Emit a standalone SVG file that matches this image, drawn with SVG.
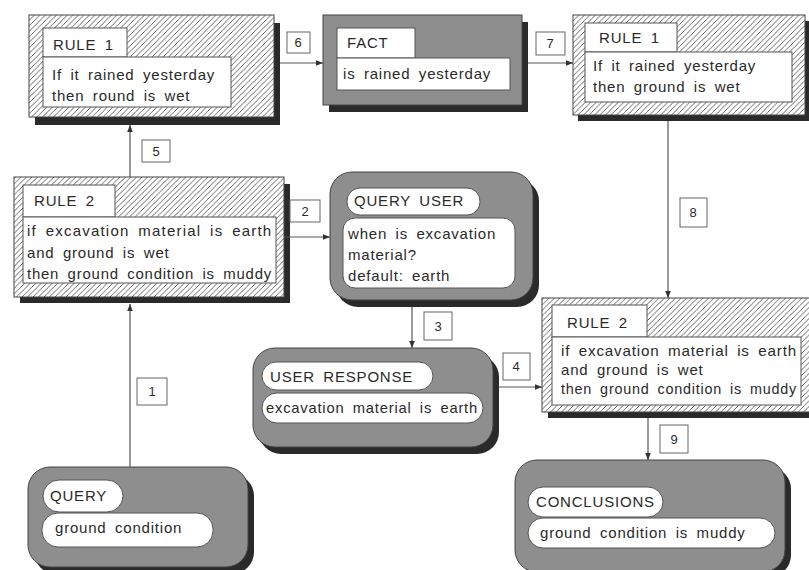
<svg xmlns="http://www.w3.org/2000/svg" width="809" height="570" viewBox="0 0 809 570">
<defs>
<pattern id="hatch" patternUnits="userSpaceOnUse" width="5.5" height="5.5">
<rect width="5.5" height="5.5" fill="#fff"/>
<path d="M-1,1 L1,-1 M0,5.5 L5.5,0 M4.5,6.5 L6.5,4.5" stroke="#555" stroke-width="0.9"/>
</pattern>
<marker id="arr" viewBox="0 0 10 10" refX="10" refY="5" markerWidth="7" markerHeight="7" orient="auto" markerUnits="userSpaceOnUse">
<path d="M0,1 L10,5 L0,9 Z" fill="#333"/>
</marker>
</defs>
<style>
text{font-family:"Liberation Sans",Arial,sans-serif;font-size:15px;fill:#2a2a2a;letter-spacing:0.8px;word-spacing:3.5px}
.sh{fill:#2a2a2a}
.ht{fill:url(#hatch);stroke:#444;stroke-width:1}
.gr{fill:#8e8e8e;stroke:#444;stroke-width:1}
.wb{fill:#fff;stroke:#555;stroke-width:1}
.cn{stroke:#555;stroke-width:1.2;fill:none;marker-end:url(#arr)}
.lb{fill:#fff;stroke:#666;stroke-width:1}
.lt{text-anchor:middle;font-size:13px;letter-spacing:0}
</style>
<rect width="809" height="570" fill="#fff"/>

<g id="rule1-left">
<rect class="sh" x="35" y="23" width="245" height="102"/>
<rect class="ht" x="29" y="15" width="245" height="102"/>
<rect class="wb" x="43" y="28" width="84" height="29"/>
<rect class="wb" x="43" y="57" width="188" height="50"/>
<text x="53" y="50">RULE 1</text>
<text x="52" y="80">If it rained yesterday</text>
<text x="52" y="101">then round is wet</text>
</g>

<g id="fact">
<rect class="sh" x="329" y="22" width="199" height="90"/>
<rect class="gr" x="323" y="15" width="199" height="90"/>
<rect class="wb" x="337" y="28" width="78" height="30"/>
<rect class="wb" x="337" y="58" width="173" height="32"/>
<text x="347" y="48">FACT</text>
<text x="343" y="79">is rained yesterday</text>
</g>

<g id="rule1-right">
<rect class="sh" x="578" y="21" width="240" height="100"/>
<rect class="ht" x="573" y="15" width="232" height="100"/>
<rect class="wb" x="585" y="23" width="92" height="29"/>
<rect class="wb" x="585" y="52" width="207" height="50"/>
<text x="599" y="43">RULE 1</text>
<text x="593" y="71">If it rained yesterday</text>
<text x="593" y="92">then ground is wet</text>
</g>

<g id="rule2-left">
<rect class="sh" x="20" y="184" width="270" height="119"/>
<rect class="ht" x="14" y="177" width="270" height="120"/>
<rect class="wb" x="23" y="185" width="92" height="32"/>
<rect class="wb" x="23" y="217" width="253" height="66"/>
<text x="34" y="206">RULE 2</text>
<text x="27" y="236" textLength="245" lengthAdjust="spacing">if excavation material is earth</text>
<text x="27" y="258">and ground is wet</text>
<text x="27" y="279" textLength="245" lengthAdjust="spacingAndGlyphs">then ground condition is muddy</text>
</g>

<g id="query-user">
<rect class="sh" x="336" y="179" width="203" height="128" rx="22"/>
<rect class="gr" x="330" y="172" width="203" height="128" rx="22"/>
<rect class="wb" x="347" y="188" width="133" height="27" rx="13"/>
<rect class="wb" x="343" y="218" width="172" height="70" rx="12"/>
<text x="354" y="206">QUERY USER</text>
<text x="348" y="239">when is excavation</text>
<text x="348" y="260">material?</text>
<text x="348" y="281">default: earth</text>
</g>

<g id="user-response">
<rect class="sh" x="259" y="355" width="240" height="99" rx="22"/>
<rect class="gr" x="253" y="348" width="240" height="99" rx="22"/>
<rect class="wb" x="262" y="362" width="171" height="28" rx="14"/>
<rect class="wb" x="262" y="393" width="221" height="30" rx="15"/>
<text x="270" y="382">USER RESPONSE</text>
<text x="266" y="413" textLength="212" lengthAdjust="spacingAndGlyphs">excavation material is earth</text>
</g>

<g id="rule2-right">
<rect class="sh" x="548" y="305" width="270" height="113"/>
<rect class="ht" x="542" y="298" width="275" height="114"/>
<rect class="wb" x="552" y="305" width="95" height="32"/>
<rect class="wb" x="552" y="337" width="249" height="68"/>
<text x="567" y="328">RULE 2</text>
<text x="561" y="356" textLength="236" lengthAdjust="spacingAndGlyphs">if excavation material is earth</text>
<text x="561" y="375">and ground is wet</text>
<text x="561" y="394" textLength="236" lengthAdjust="spacingAndGlyphs">then ground condition is muddy</text>
</g>

<g id="query">
<rect class="sh" x="34" y="474" width="220" height="100" rx="22"/>
<rect class="gr" x="28" y="467" width="220" height="100" rx="22"/>
<rect class="wb" x="43" y="480" width="80" height="32" rx="16"/>
<rect class="wb" x="42" y="513" width="171" height="34" rx="16"/>
<text x="50" y="501">QUERY</text>
<text x="55" y="533">ground condition</text>
</g>

<g id="conclusions">
<rect class="sh" x="521" y="467" width="270" height="110" rx="22"/>
<rect class="gr" x="515" y="460" width="270" height="112" rx="22"/>
<rect class="wb" x="528" y="487" width="135" height="30" rx="15"/>
<rect class="wb" x="528" y="518" width="247" height="30" rx="15"/>
<text x="536" y="507">CONCLUSIONS</text>
<text x="540" y="538">ground condition is muddy</text>
</g>

<g id="connectors">
<line class="cn" x1="130" y1="467" x2="130" y2="304"/>
<line class="cn" x1="284" y1="237" x2="330" y2="237"/>
<line class="cn" x1="412" y1="307" x2="412" y2="348"/>
<line class="cn" x1="499" y1="387" x2="542" y2="387"/>
<line class="cn" x1="130" y1="177" x2="130" y2="125"/>
<line class="cn" x1="280" y1="63" x2="323" y2="63"/>
<line class="cn" x1="528" y1="63" x2="573" y2="63"/>
<line class="cn" x1="668" y1="121" x2="668" y2="298"/>
<line class="cn" x1="648" y1="418" x2="648" y2="460"/>
<rect class="lb" x="137" y="378" width="30" height="27"/><text class="lt" x="152" y="396">1</text>
<rect class="lb" x="290" y="200" width="30" height="22"/><text class="lt" x="305" y="216">2</text>
<rect class="lb" x="424" y="312" width="28" height="28"/><text class="lt" x="438" y="331">3</text>
<rect class="lb" x="503" y="353" width="27" height="27"/><text class="lt" x="516" y="371">4</text>
<rect class="lb" x="142" y="140" width="28" height="22"/><text class="lt" x="156" y="156">5</text>
<rect class="lb" x="287" y="32" width="23" height="21"/><text class="lt" x="298" y="47">6</text>
<rect class="lb" x="536" y="32" width="29" height="23"/><text class="lt" x="550" y="48">7</text>
<rect class="lb" x="680" y="198" width="27" height="29"/><text class="lt" x="693" y="217">8</text>
<rect class="lb" x="660" y="425" width="28" height="28"/><text class="lt" x="674" y="444">9</text>
</g>
</svg>
